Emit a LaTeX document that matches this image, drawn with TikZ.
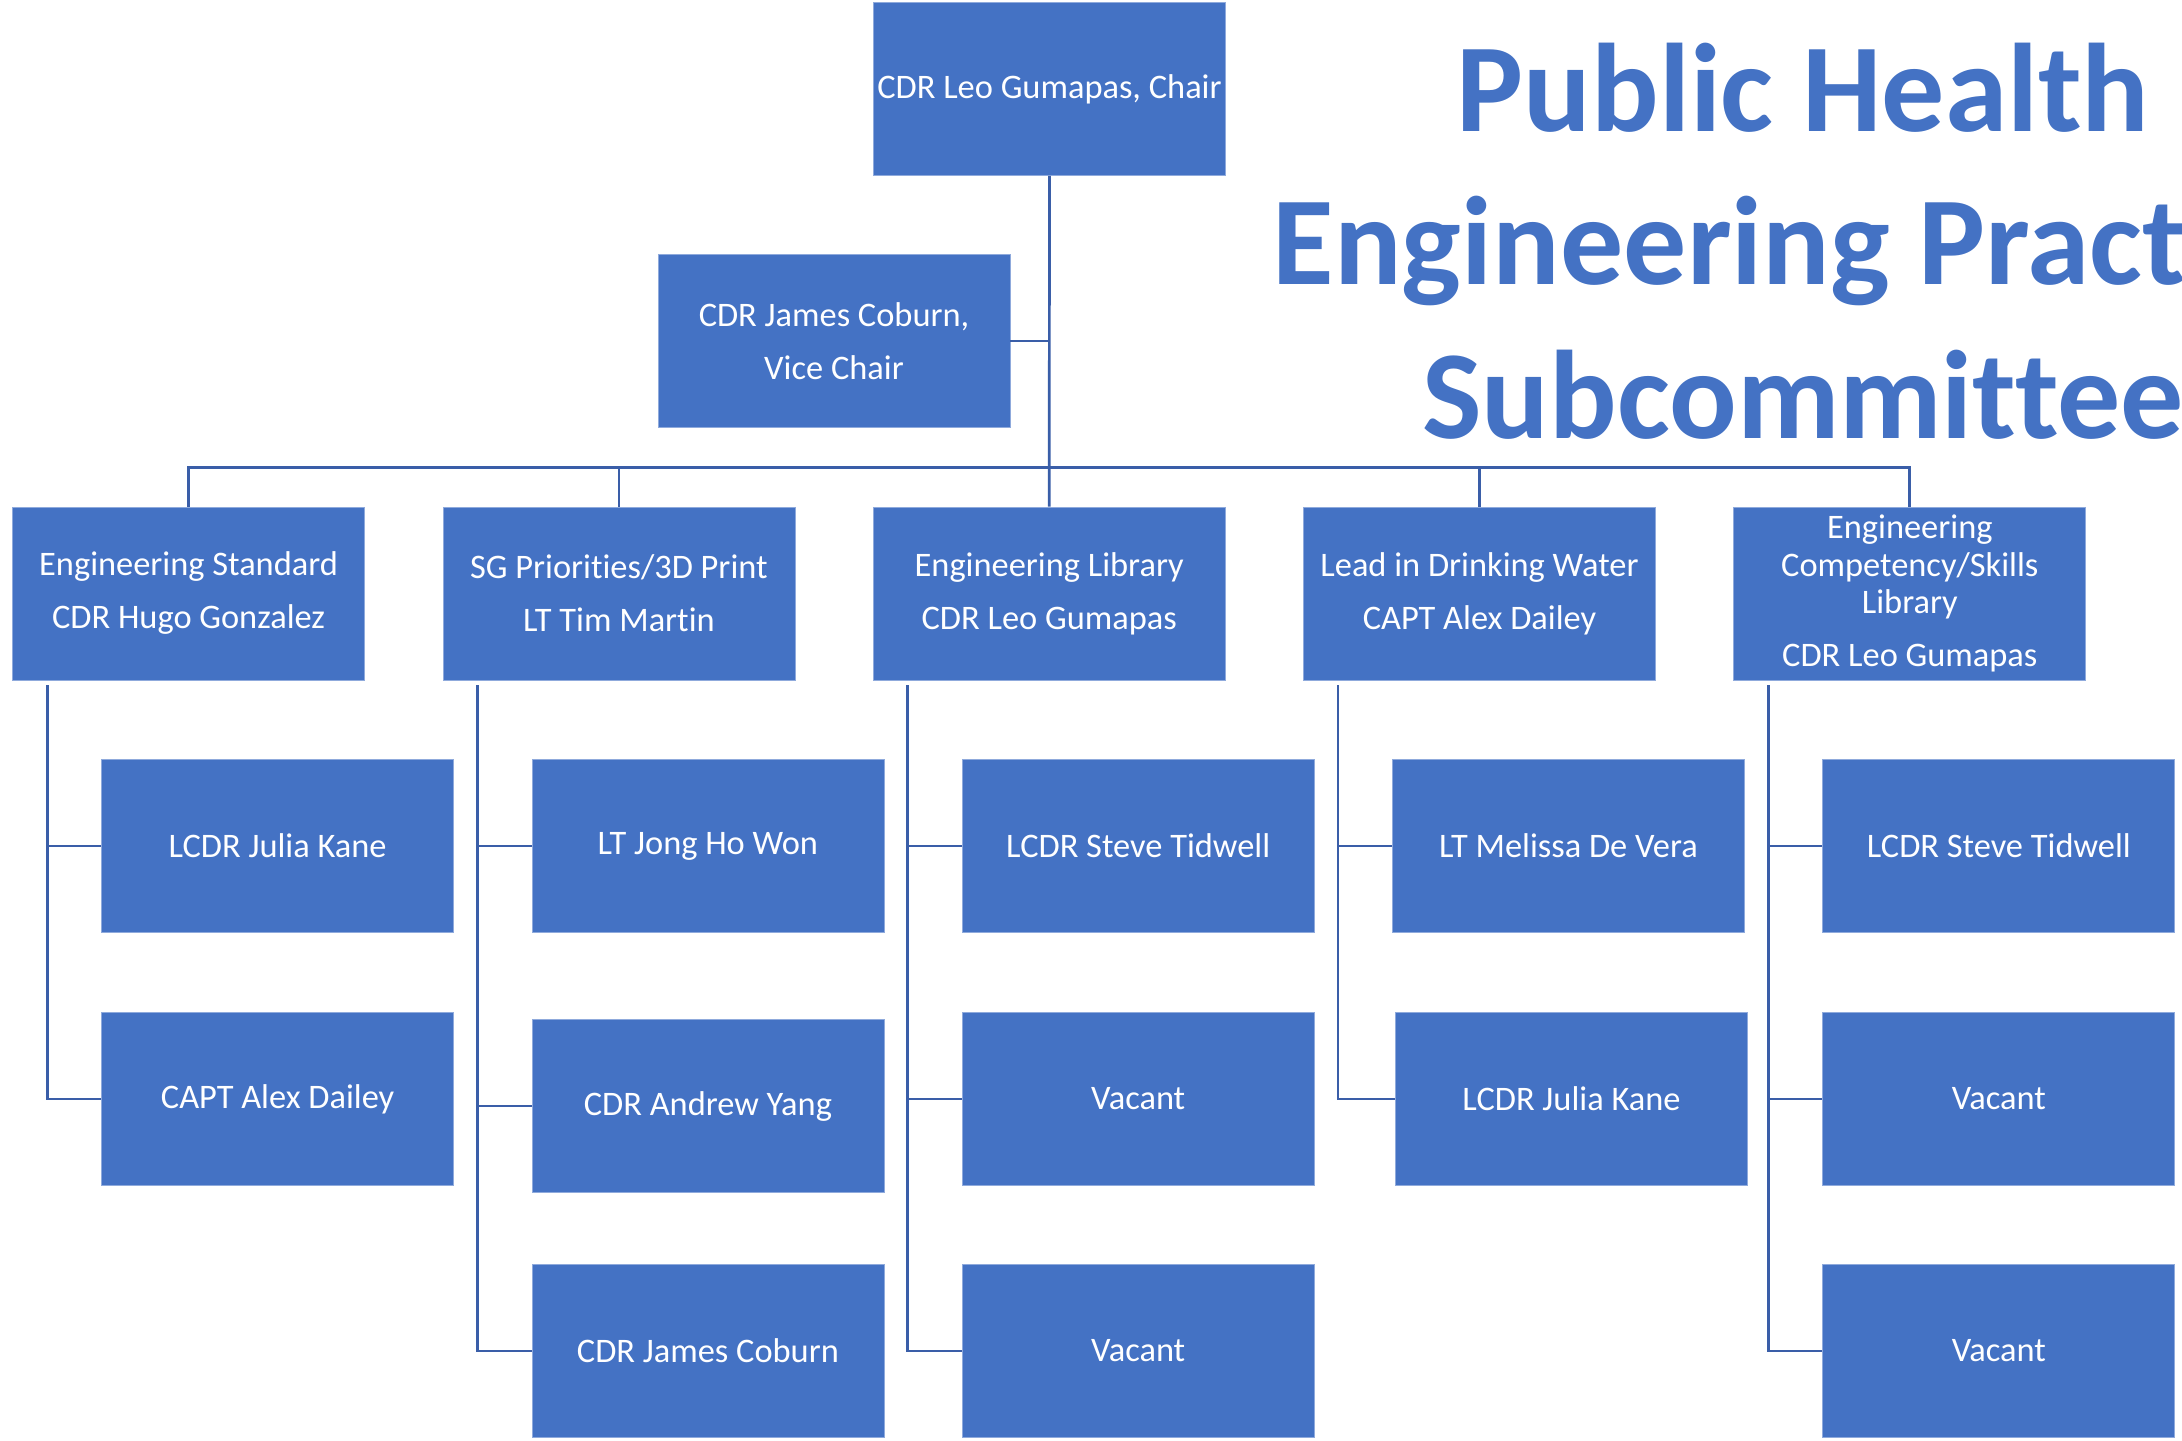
\documentclass[tikz,border=0pt]{standalone}
\usepackage{fontspec}
\setmainfont{Carlito}[Ligatures=NoCommon]
\usetikzlibrary{calc}
\definecolor{boxblue}{HTML}{4472C4}
\definecolor{lineblue}{HTML}{3A5EA8}
\tikzset{
  orgbox/.style={rectangle, fill=boxblue, draw=boxblue!60!white, line width=0.4pt,
    minimum width=176pt, minimum height=86.5pt, inner sep=0pt, text=white,
    align=center, font=\fontsize{17.2}{18.8}\selectfont},
  conn/.style={draw=lineblue, line width=1.35pt},
  titletext/.style={text=boxblue, font=\bfseries\fontsize{63}{76}\selectfont, anchor=base, inner sep=0pt}
}
\begin{document}
\begin{tikzpicture}[x=0.5pt,y=-0.5pt]
\useasboundingbox (0,0) rectangle (2182,1440);
\clip (0,0) rectangle (2182,1440);
% title
\node[titletext] (t1) at (1803,131) {Public Health};
\node[titletext] (t2) at (1803,284) {Engineering Practice};
\node[titletext] (t3) at (1803,438) {Subcommittee};
% top
\node[orgbox] (chair) at (1049.5,89) {CDR Leo Gumapas, Chair};
\node[orgbox] (vice) at (834,341) {CDR James Coburn,\\[7.7pt]Vice Chair};
% level 2
\node[orgbox] (l1) at (188.6,593.5) {Engineering Standard\\[7.7pt]CDR Hugo Gonzalez};
\node[orgbox] (l2) at (618.9,593.5) {SG Priorities/3D Print\\[7.7pt]LT Tim Martin};
\node[orgbox] (l3) at (1049.2,593.5) {Engineering Library\\[7.7pt]CDR Leo Gumapas};
\node[orgbox] (l4) at (1479.5,593.5) {Lead in Drinking Water\\[7.7pt]CAPT Alex Dailey};
\node[orgbox] (l5) at (1909.8,593.5) {Engineering\\Competency/Skills\\Library\\[7.7pt]CDR Leo Gumapas};
% level 3
\node[orgbox] (c1a) at (277.6,846) {LCDR Julia Kane};
\node[orgbox] (c1b) at (277.6,1099) {CAPT Alex Dailey};
\node[orgbox] (c2a) at (707.9,846) {LT Jong Ho Won};
\node[orgbox] (c2b) at (707.9,1106) {CDR Andrew Yang};
\node[orgbox] (c2c) at (707.9,1351) {CDR James Coburn};
\node[orgbox] (c3a) at (1138.2,846) {LCDR Steve Tidwell};
\node[orgbox] (c3b) at (1138.2,1099) {Vacant};
\node[orgbox] (c3c) at (1138.2,1351) {Vacant};
\node[orgbox] (c4a) at (1568.5,846) {LT Melissa De Vera};
\node[orgbox] (c4b) at (1571.5,1099) {LCDR Julia Kane};
\node[orgbox] (c5a) at (1998.8,846) {LCDR Steve Tidwell};
\node[orgbox] (c5b) at (1998.8,1099) {Vacant};
\node[orgbox] (c5c) at (1998.8,1351) {Vacant};
% connectors
\coordinate (bus) at (0,467.6);
\draw[conn] (chair.south) -- (l3.north);
\draw[conn] (vice.east) -- (vice.east -| chair.south);
\draw[conn] (l1.north) -- (l1.north |- bus) -- (l5.north |- bus) -- (l5.north);
\draw[conn] (l2.north) -- (l2.north |- bus);
\draw[conn] (l4.north) -- (l4.north |- bus);
\coordinate (k1) at ($(l1.south west)+(35,5)$);
\coordinate (k2) at ($(l2.south west)+(35,5)$);
\coordinate (k3) at ($(l3.south west)+(35,5)$);
\coordinate (k4) at ($(l4.south west)+(35,5)$);
\coordinate (k5) at ($(l5.south west)+(35,5)$);
\draw[conn] (k1) |- (c1b.west);
\draw[conn] (k1) |- (c1a.west);
\draw[conn] (k2) |- (c2c.west);
\draw[conn] (k2) |- (c2b.west);
\draw[conn] (k2) |- (c2a.west);
\draw[conn] (k3) |- (c3c.west);
\draw[conn] (k3) |- (c3b.west);
\draw[conn] (k3) |- (c3a.west);
\draw[conn] (k4) |- (c4b.west);
\draw[conn] (k4) |- (c4a.west);
\draw[conn] (k5) |- (c5c.west);
\draw[conn] (k5) |- (c5b.west);
\draw[conn] (k5) |- (c5a.west);
\end{tikzpicture}
\end{document}
